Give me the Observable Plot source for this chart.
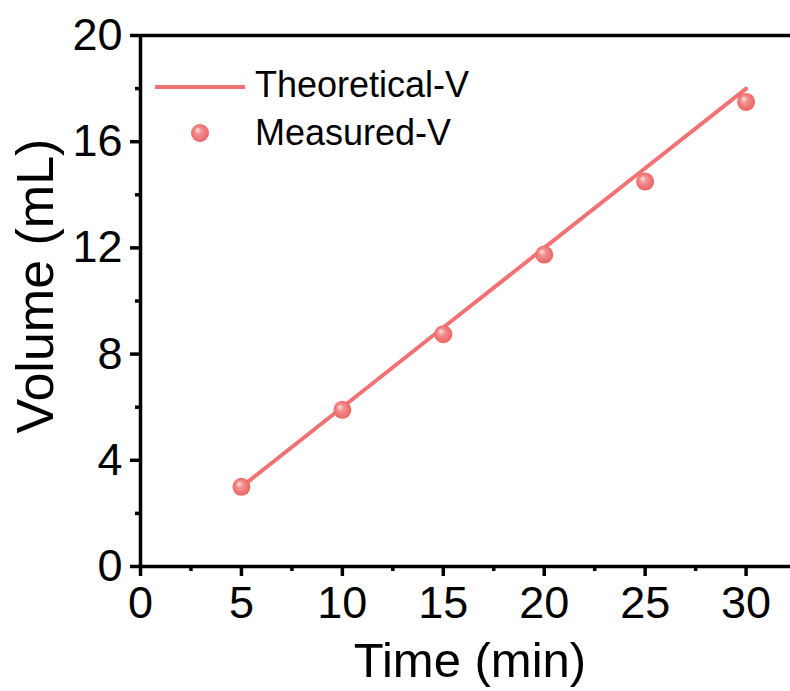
<!DOCTYPE html>
<html>
<head>
<meta charset="utf-8">
<script src="https://cdn.jsdelivr.net/npm/d3@7"></script>
<script src="https://cdn.jsdelivr.net/npm/@observablehq/plot@0.6"></script>
<style>
  html, body { margin: 0; padding: 0; background: #fff; }
  svg { display: block; }
</style>
</head>
<body>
<div id="chart"></div>
<script>
const times = [5, 10, 15, 20, 25, 30];
const theoreticalV = [3, 6, 9, 12, 15, 18];
const measuredV = [3.0, 5.9, 8.75, 11.75, 14.5, 17.5];
const xTicks = [0, 5, 10, 15, 20, 25, 30];
const xMinorTicks = [2.5, 7.5, 12.5, 17.5, 22.5, 27.5];
const yTicks = [0, 4, 8, 12, 16, 20];
const yMinorTicks = [2, 6, 10, 14, 18];
const legendLabels = ["Theoretical-V", "Measured-V"];

const theo = times.map((t, i) => ({t, v: theoreticalV[i]}));
const meas = times.map((t, i) => ({t, v: measuredV[i]}));

const font = "'Liberation Sans', Arial, sans-serif";
const lineColor = "#f07272";

const chart = Plot.plot({
  width: 790,
  height: 691,
  marginLeft: 140,
  marginRight: 0,
  marginTop: 35,
  marginBottom: 125,
  style: {fontFamily: font, background: "#fff", color: "#000"},
  x: {domain: [0, 32.2]},
  y: {domain: [0, 20]},
  marks: [
    Plot.axisX(xTicks, {tickSize: 10, tickPadding: 10, fontSize: 45, strokeWidth: 3.5, label: null}),
    Plot.axisX(xMinorTicks, {tickSize: 5, text: null, strokeWidth: 3.5, label: null}),
    Plot.axisY(yTicks, {tickSize: 10, tickPadding: 8, fontSize: 45, strokeWidth: 3.5, label: null}),
    Plot.axisY(yMinorTicks, {tickSize: 5, text: null, strokeWidth: 3.5, label: null}),
    Plot.ruleY([0], {stroke: "#000", strokeWidth: 3.5}),
    Plot.ruleY([20], {stroke: "#000", strokeWidth: 3.5}),
    Plot.ruleX([0], {stroke: "#000", strokeWidth: 3.5}),
    Plot.line(theo, {x: "t", y: "v", stroke: lineColor, strokeWidth: 4}),
    Plot.dot(meas, {x: "t", y: "v", r: 9, fill: "url(#ballGrad)", stroke: "none"})
  ]
});

const svg = d3.select(chart);
const defs = svg.insert("defs", ":first-child");
const grad = defs.append("radialGradient")
  .attr("id", "ballGrad").attr("cx", "50%").attr("cy", "50%").attr("r", "55%")
  .attr("fx", "35%").attr("fy", "32%");
grad.append("stop").attr("offset", "0%").attr("stop-color", "#fde6e6");
grad.append("stop").attr("offset", "35%").attr("stop-color", "#f49090");
grad.append("stop").attr("offset", "100%").attr("stop-color", "#e85e5e");

// Axis titles
svg.append("text")
  .attr("x", 470).attr("y", 677)
  .attr("text-anchor", "middle")
  .attr("font-family", font).attr("font-size", 49)
  .text("Time (min)");
svg.append("text")
  .attr("transform", "translate(53,286) rotate(-90)")
  .attr("text-anchor", "middle")
  .attr("font-family", font).attr("font-size", 52)
  .text("Volume (mL)");

// Legend
const lg = svg.append("g").attr("text-anchor", "start");
lg.append("line").attr("x1", 155).attr("x2", 245).attr("y1", 87).attr("y2", 87)
  .attr("stroke", lineColor).attr("stroke-width", 4);
lg.append("text").attr("x", 255).attr("y", 97).attr("text-anchor", "start")
  .attr("font-family", font).attr("font-size", 36).text(legendLabels[0]);
lg.append("circle").attr("cx", 200).attr("cy", 133).attr("r", 9)
  .attr("fill", "url(#ballGrad)");
lg.append("text").attr("x", 255).attr("y", 145).attr("text-anchor", "start")
  .attr("font-family", font).attr("font-size", 36).text(legendLabels[1]);

document.getElementById("chart").appendChild(chart);
</script>
</body>
</html>
